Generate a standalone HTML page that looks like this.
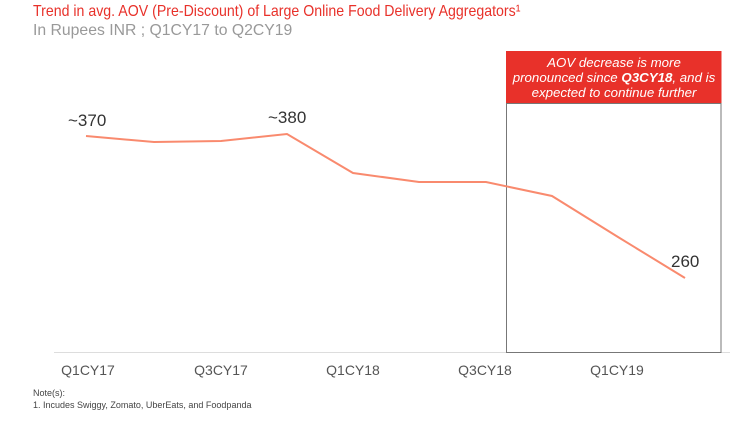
<!DOCTYPE html>
<html><head><meta charset="utf-8"><style>
body{margin:0;width:737px;height:421px;background:#fff;overflow:hidden;position:relative;font-family:"Liberation Sans",sans-serif}
.t{position:absolute;white-space:nowrap}
</style></head><body>
<div class="t" style="left:33px;top:3px;font-size:16px;color:#e8312a;transform:scaleX(0.885);transform-origin:0 0">Trend in avg. AOV (Pre-Discount) of Large Online Food Delivery Aggregators¹</div>
<div class="t" style="left:33px;top:22px;font-size:16px;color:#999;transform:scaleX(0.985);transform-origin:0 0">In Rupees INR ; Q1CY17 to Q2CY19</div>
<svg width="737" height="421" style="position:absolute;left:0;top:0">
<line x1="54" y1="352.5" x2="730" y2="352.5" stroke="#ddd" stroke-width="1"/>
<rect x="506.5" y="103.5" width="214.5" height="249" fill="none" stroke="#777" stroke-width="1"/>
<rect x="506" y="51" width="215.5" height="52" fill="#e8312a"/>
<text x="614" y="67" text-anchor="middle" font-size="13.3" font-style="italic" fill="#fff">AOV decrease is more</text>
<text x="614" y="82" text-anchor="middle" font-size="13.3" font-style="italic" fill="#fff">pronounced since <tspan font-weight="bold">Q3CY18</tspan>, and is</text>
<text x="614" y="97" text-anchor="middle" font-size="13.3" font-style="italic" fill="#fff">expected to continue further</text>
<polyline points="86,136 154,142 221,141 287,134 353,173 419,182 486,182 552,196 618,237 685,278" fill="none" stroke="#f98a6e" stroke-width="2"/>
<text x="68" y="126" font-size="17" fill="#333">~370</text>
<text x="268" y="123" font-size="17" fill="#333">~380</text>
<text x="671" y="267" font-size="17" fill="#333">260</text>
<g font-size="14" fill="#555" text-anchor="middle">
<text x="88" y="375">Q1CY17</text><text x="221" y="375">Q3CY17</text><text x="353" y="375">Q1CY18</text><text x="485" y="375">Q3CY18</text><text x="617" y="375">Q1CY19</text>
</g>
<text x="33" y="396" font-size="9" fill="#444">Note(s):</text>
<text x="33" y="408" font-size="9" fill="#444">1. Incudes Swiggy, Zomato, UberEats, and Foodpanda</text>
</svg>
</body></html>
